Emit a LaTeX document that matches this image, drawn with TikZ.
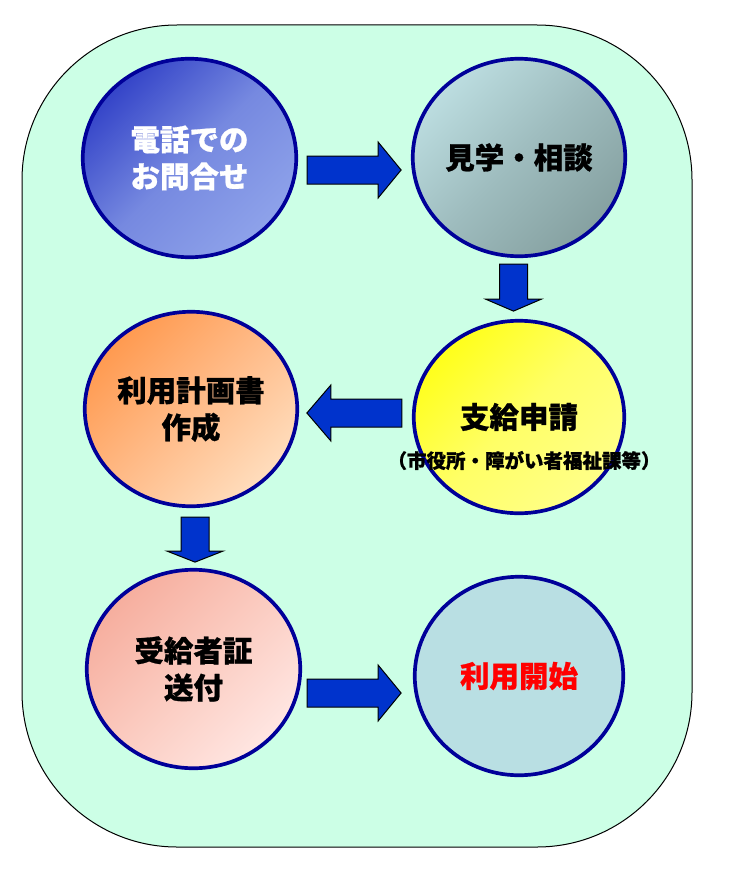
\documentclass[tikz,border=0pt]{standalone}
\usepackage{fontspec}
\newfontfamily\jpfont{Noto Sans CJK JP}[BoldFeatures={FakeBold=0.8}]
\usetikzlibrary{shapes.geometric,calc}
\definecolor{mint}{HTML}{CCFFE6}
\definecolor{navyline}{HTML}{000099}
\definecolor{arrowblue}{HTML}{0033CC}
\definecolor{aTop}{HTML}{3444C8}\definecolor{aMid}{HTML}{7689E0}\definecolor{aBot}{HTML}{8EA2EA}
\definecolor{bTop}{HTML}{BCDDE0}\definecolor{bMid}{HTML}{9EBCBE}\definecolor{bBot}{HTML}{86A1A1}
\definecolor{cTop}{HTML}{FFFF1A}\definecolor{cMid}{HTML}{FFFF66}\definecolor{cBot}{HTML}{FFFF88}
\definecolor{dTop}{HTML}{FF9A50}\definecolor{dMid}{HTML}{FFBB88}\definecolor{dBot}{HTML}{FFDDBD}
\definecolor{eTop}{HTML}{F6AE9E}\definecolor{eMid}{HTML}{FBCBC0}\definecolor{eBot}{HTML}{FFE6E2}
\definecolor{fFill}{HTML}{B9DFE3}
\definecolor{startred}{HTML}{FF0000}
\tikzset{
  arrowbody/.style={draw=black, line width=1pt, fill=arrowblue, line join=miter},
  pics/blockarrow/.style n args={2}{code={
    \path[arrowbody] (0,-14) -- (#1-#2,-14) -- (#1-#2,-28) -- (#1,0)
      -- (#1-#2,28) -- (#1-#2,14) -- (0,14) -- cycle;
  }},
}
\begin{document}
\begin{tikzpicture}[x=1pt,y=-1pt,
  stage/.style={ellipse, draw=navyline, line width=3.7pt, inner sep=0pt, align=center,
    font=\jpfont\bfseries\fontsize{29.5}{37}\selectfont, text=black},
]
\useasboundingbox (0,0) rectangle (741,875);
\draw[line width=1pt, fill=mint, rounded corners=155pt] (22,25) rectangle (692,847);

\node[stage, minimum width=213.5pt, minimum height=198.5pt, text=white,
  top color=aTop, bottom color=aBot, middle color=aMid, shading angle=45]
  (e1) at (189.5,158) {電話での\\お問合せ};
\node[stage, minimum width=212.5pt, minimum height=197.5pt,
  top color=bTop, bottom color=bBot, middle color=bMid, shading angle=45]
  (e2) at (519,157.5) {見学・相談};
\node[stage, minimum width=210.5pt, minimum height=192.5pt,
  top color=cTop, bottom color=cBot, middle color=cMid, shading angle=45]
  (e3) at (519,417) {支給申請};
\node[stage, minimum width=212.5pt, minimum height=194.5pt,
  top color=dTop, bottom color=dBot, middle color=dMid, shading angle=45]
  (e4) at (191,409) {利用計画書\\作成};
\node[stage, minimum width=213.5pt, minimum height=198.5pt,
  top color=eTop, bottom color=eBot, middle color=eMid, shading angle=45]
  (e5) at (193.5,669) {受給者証\\送付};
\node[stage, minimum width=208.5pt, minimum height=198.5pt, fill=fFill, text=startred]
  (e6) at (519,676) {利用開始};

\node[font=\jpfont\bfseries\fontsize{19.5}{21}\selectfont, inner sep=0pt]
  (sub3) at (524,460.5) {（市役所・障がい者福祉課等）};

\pic (a1) at ($(e1.east)+(9,12)$) {blockarrow={94}{23}};
\pic[rotate=-90] (a2) at ($(e2.south)+(-5.5,6)$) {blockarrow={47}{12}};
\pic[rotate=180] (a3) at ($(e3.west)+(-10,-4)$) {blockarrow={95}{24}};
\pic[rotate=-90] (a4) at ($(e4.south)+(4,9)$) {blockarrow={45}{11}};
\pic (a5) at ($(e5.east)+(5,24)$) {blockarrow={94}{23}};
\end{tikzpicture}
\end{document}
